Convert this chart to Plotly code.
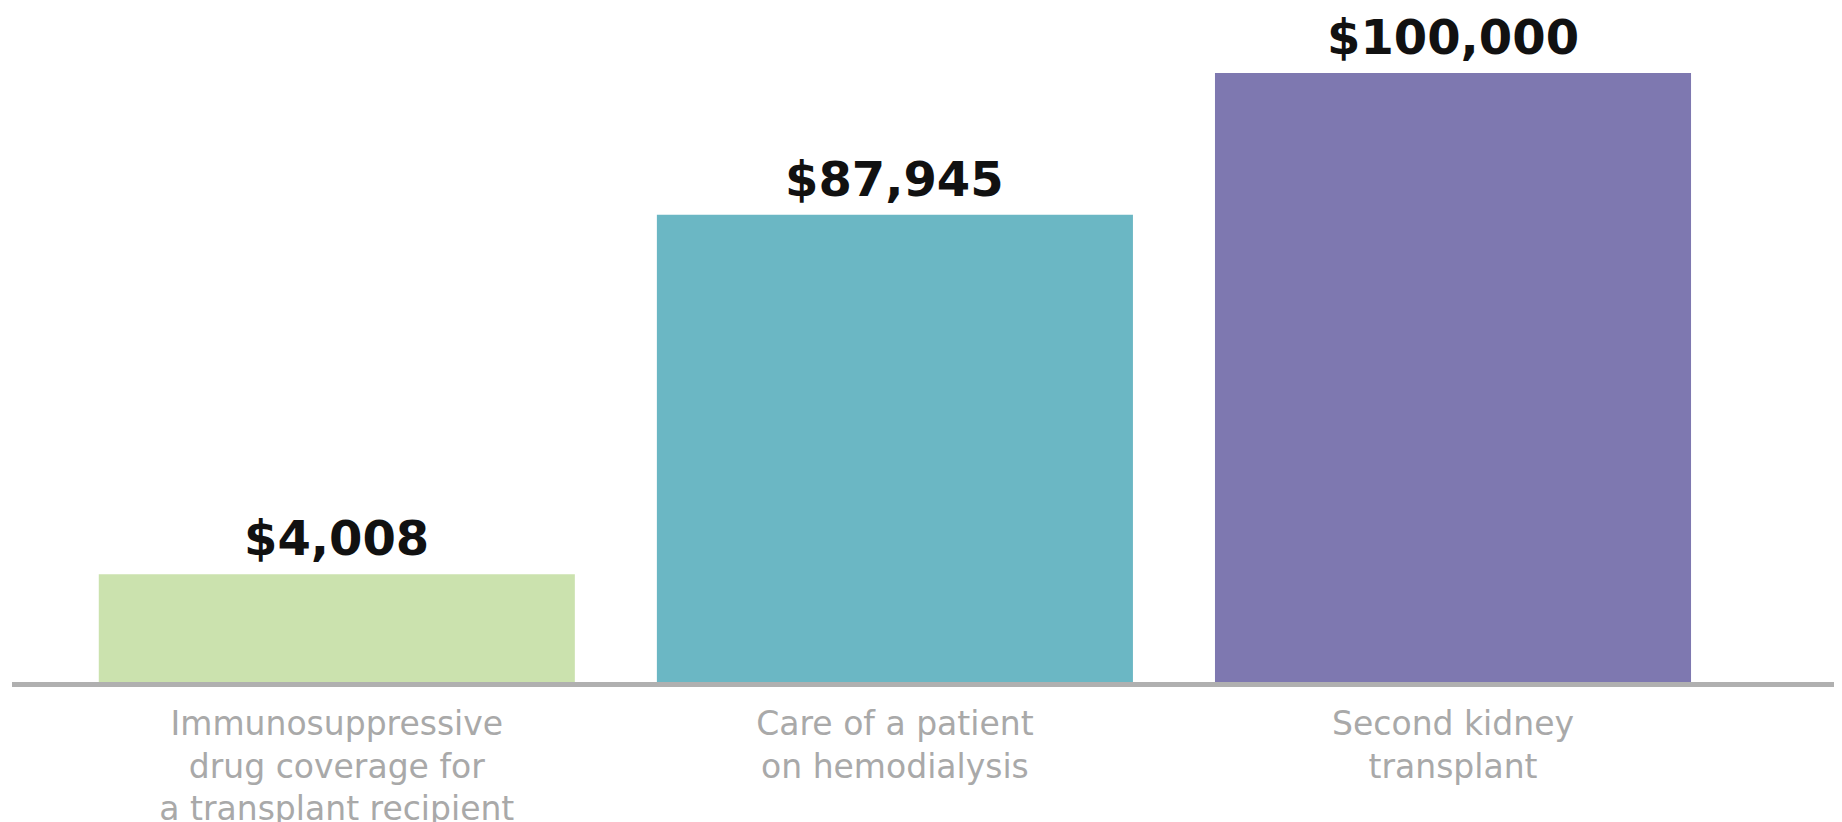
import plotly.graph_objects as go

# Data
categories = [
    "Immunosuppressive<br>drug coverage for<br>a transplant recipient",
    "Care of a patient<br>on hemodialysis",
    "Second kidney<br>transplant",
]
cost_values = [4008, 87945, 100000]            # dollar values shown as labels
bar_heights = [17.7, 76.7, 100.0]              # drawn bar heights (% of tallest)
bar_colors = ["#cbe2ae", "#6bb7c4", "#7e78b0"]

positions = list(range(len(categories)))
value_labels = ["${:,}".format(v) for v in cost_values]

fig = go.Figure()
fig.add_trace(go.Bar(
    x=positions,
    y=bar_heights,
    width=0.853,
    marker=dict(color=bar_colors, line=dict(width=0)),
    hoverinfo="skip",
))

for xp, h, lab in zip(positions, bar_heights, value_labels):
    fig.add_annotation(
        x=xp, y=h, text=lab, showarrow=False,
        yanchor="bottom", xanchor="center", yshift=6,
        font=dict(family="DejaVu Sans", size=48, color="#111111", weight="bold"),
    )

fig.update_layout(
    width=1834, height=814,
    margin=dict(l=4, r=0, t=4, b=140),
    plot_bgcolor="white", paper_bgcolor="white",
    showlegend=False,
    xaxis=dict(
        range=[-0.582, 2.697],
        tickvals=positions, ticktext=categories,
        showgrid=False, zeroline=False,
        showline=True, linecolor="#b0b0b0", linewidth=5,
        ticks="", ticklabelstandoff=8,
        tickfont=dict(family="DejaVu Sans", size=33, color="#a9a9a9"),
        automargin=False,
        fixedrange=True,
    ),
    yaxis=dict(
        range=[0, 110], visible=False, showgrid=False, zeroline=False,
        automargin=False,
        fixedrange=True,
    ),
)

fig.write_html("out.html")
